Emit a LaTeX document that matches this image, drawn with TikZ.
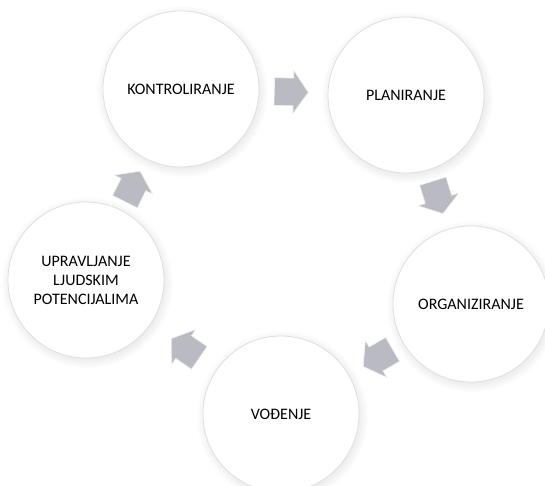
\documentclass[tikz,border=0pt]{standalone}
\usepackage{fontspec}
\setmainfont{Carlito}
\usetikzlibrary{shapes.arrows, shadows, calc}

\definecolor{arrowgray}{RGB}{186,186,194}
\pgfdeclareradialshading{disc}{\pgfpoint{-4bp}{4bp}}{color(0bp)=(white); color(36bp)=(white); color(46bp)=(gray!14); color(50bp)=(gray!20)}

\begin{document}
\begin{tikzpicture}[x=1pt, y=-1pt,
phase/.style={circle, minimum size=156pt, inner sep=0pt, draw=gray!25, line width=0.8pt, shading=disc, circular drop shadow={shadow xshift=1pt, shadow yshift=-2pt, opacity=0.18}, font=\fontsize{16}{19}\selectfont, align=center},
flow/.style={single arrow, minimum height=34pt, minimum width=42pt, single arrow head extend=7.5pt, single arrow tip angle=110, inner xsep=0pt, inner ysep=13.5pt, draw=gray!12, line width=0.6pt, fill=arrowgray}
]
\useasboundingbox (0,0) rectangle (545,486);
\fill[white] (0,0) rectangle (545,486);

\node[phase] (k) at (181,89)  {KONTROLIRANJE};
\node[phase] (p) at (406,95)  {PLANIRANJE};
\node[phase] (o) at (471,304) {ORGANIZIRANJE};
\node[phase] (v) at (281,414) {VOĐENJE};
\node[phase] (u) at (86,280)  {UPRAVLJANJE\\LJUDSKIM\\POTENCIJALIMA};

% arrows half way between the circles
\foreach \a/\b/\i in {k/p/1, p/o/2, o/v/3, v/u/4, u/k/5}
  \path let \p1=($(\b)-(\a)$), \n1={atan2(\y1,\x1)} in
    node[flow, rotate=\n1] (f\i) at ($($(\a)!0.5!(\b)$)!7pt!(\a)$) {};
\end{tikzpicture}
\end{document}
